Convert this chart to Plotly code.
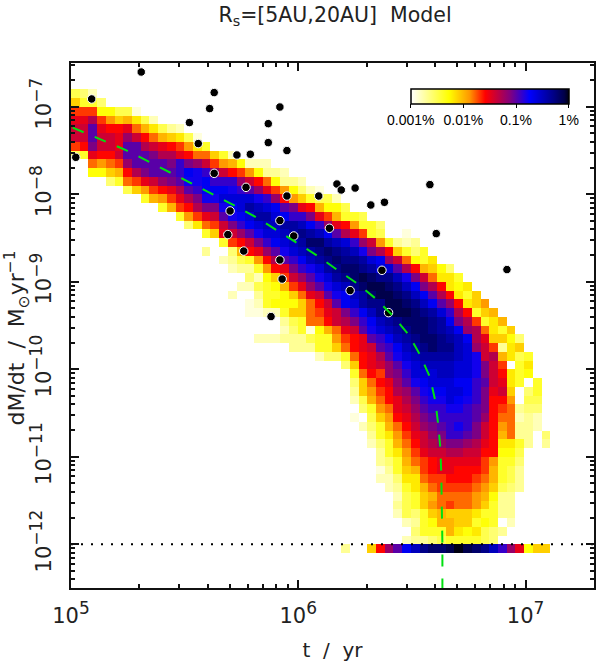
"""Accretion rate against age, binned population with observed stars on top."""
import numpy as np
import plotly.graph_objects as go

FONT = "DejaVu Sans"
BAR_FONT = "Liberation Sans"

# Heat levels: tenths of a decade above 0.001%, 0 = empty.
# One entry per row from the top of the plot, row_first gives its first column.
row_first = [0, 0, 0, 0, 0, 0, 0, 0, 0, 0, 0, 2, 2, 4, 6, 8, 10, 12, 13, 15,
             17, 15, 17, 18, 20, 19, 18, 20, 20, 24, 24, 21, 25, 28, 31, 32, 32, 32, 32, 33,
             32, 33, 34, 34, 35, 35, 35, 35, 36, 37, 37, 37, 38, 39, 38, 31, 0, 0, 0, 0]
row_levels = [
    [], [], [],
    [5, 4, 2],
    [9, 6, 6, 4],
    [13, 13, 13, 7, 7, 5, 5, 1],
    [15, 15, 17, 13, 11, 9, 10, 8, 5, 2],
    [16, 16, 20, 15, 14, 14, 15, 12, 10, 8, 5, 3, 2],
    [16, 16, 20, 16, 16, 15, 18, 16, 14, 12, 10, 9, 8, 5, 1],
    [13, 14, 19, 16, 16, 15, 20, 20, 17, 16, 15, 14, 13, 11, 8, 6],
    [5, 6, 15, 14, 14, 16, 20, 20, 20, 19, 17, 17, 15, 14, 12, 12, 9, 6, 2],
    [12, 11, 12, 13, 18, 20, 20, 20, 20, 19, 21, 19, 18, 16, 13, 11, 10, 7, 2, 2, 2],
    [7, 7, 9, 10, 14, 17, 19, 20, 20, 20, 21, 23, 22, 21, 18, 16, 14, 13, 11, 7, 3, 3, 2],
    [4, 6, 12, 13, 15, 16, 18, 19, 20, 22, 22, 23, 21, 21, 21, 18, 16, 14, 12, 7, 3, 3, 2],
    [5, 9, 11, 13, 14, 15, 17, 20, 21, 23, 23, 23, 22, 21, 20, 18, 15, 13, 11, 7, 4, 2, 1],
    [6, 10, 11, 13, 15, 17, 19, 22, 22, 24, 24, 24, 24, 22, 21, 18, 14, 11, 9, 6, 5, 5, 2],
    [6, 10, 13, 14, 17, 19, 19, 22, 23, 24, 26, 25, 24, 23, 20, 19, 15, 14, 10, 7, 7, 5],
    [6, 11, 13, 15, 16, 20, 22, 23, 24, 26, 26, 24, 23, 21, 21, 19, 15, 13, 10, 6, 6, 5],
    [4, 8, 12, 13, 16, 19, 21, 23, 24, 25, 25, 26, 26, 25, 23, 21, 18, 15, 14, 11, 6, 6, 4],
    [6, 9, 15, 16, 18, 20, 22, 24, 24, 25, 26, 27, 26, 25, 23, 20, 17, 15, 13, 6, 5, 0, 0, 1],
    [6, 13, 14, 16, 19, 21, 23, 24, 25, 26, 28, 28, 26, 25, 24, 21, 18, 16, 11, 6, 3, 2, 3],
    [3, 0, 0, 4, 10, 14, 15, 18, 20, 22, 24, 25, 26, 27, 28, 27, 26, 25, 22, 19, 17, 14, 9, 6, 4, 6],
    [2, 3, 5, 6, 11, 14, 17, 20, 21, 23, 25, 26, 27, 28, 27, 27, 26, 24, 23, 18, 16, 12, 7, 6, 8],
    [2, 3, 3, 6, 11, 14, 15, 19, 21, 22, 24, 26, 27, 28, 28, 27, 26, 24, 24, 20, 17, 14, 10, 9, 7, 4],
    [4, 2, 7, 9, 13, 16, 18, 20, 22, 24, 26, 27, 28, 29, 28, 27, 27, 25, 22, 19, 16, 12, 8, 8, 6],
    [2, 2, 5, 6, 7, 10, 13, 15, 18, 20, 22, 24, 25, 27, 28, 29, 29, 28, 27, 25, 23, 19, 17, 14, 8, 7, 8],
    [2, 0, 0, 3, 6, 6, 7, 9, 12, 15, 16, 20, 22, 23, 25, 26, 28, 29, 29, 28, 27, 25, 23, 20, 17, 14, 8, 6, 9],
    [1, 2, 6, 7, 7, 7, 9, 12, 14, 16, 20, 23, 24, 26, 27, 27, 29, 29, 28, 27, 25, 23, 20, 18, 14, 8, 9, 11],
    [1, 1, 2, 2, 6, 9, 9, 12, 13, 15, 16, 19, 21, 23, 25, 27, 28, 29, 29, 28, 27, 26, 24, 21, 17, 14, 6, 9, 10],
    [3, 5, 6, 12, 12, 14, 16, 17, 19, 21, 23, 25, 26, 27, 28, 28, 28, 27, 26, 23, 19, 17, 13, 6, 8, 10],
    [2, 4, 6, 1, 7, 10, 12, 15, 16, 20, 22, 24, 25, 26, 27, 28, 28, 27, 26, 25, 23, 18, 17, 12, 8, 6, 9],
    [2, 2, 2, 3, 3, 3, 5, 6, 6, 11, 13, 14, 15, 20, 21, 23, 25, 26, 27, 28, 28, 27, 26, 25, 23, 17, 15, 9, 9, 7, 4],
    [3, 3, 3, 6, 6, 9, 12, 14, 15, 16, 20, 21, 23, 25, 26, 27, 28, 27, 27, 25, 24, 18, 16, 13, 3, 8, 9],
    [2, 4, 4, 6, 12, 14, 15, 17, 20, 22, 24, 25, 26, 26, 26, 26, 25, 24, 22, 16, 17, 10, 8, 5, 6],
    [4, 9, 14, 15, 16, 18, 20, 22, 24, 25, 25, 25, 25, 24, 24, 22, 19, 16, 13, 0, 6, 8],
    [6, 12, 14, 13, 18, 19, 21, 24, 24, 24, 25, 25, 24, 24, 22, 19, 16, 14, 8, 6, 7],
    [4, 9, 12, 14, 15, 18, 20, 22, 23, 24, 24, 24, 23, 23, 21, 20, 16, 15, 8, 6, 0, 6],
    [3, 9, 11, 13, 14, 17, 18, 20, 22, 23, 23, 24, 24, 23, 21, 19, 15, 16, 9, 0, 4, 6],
    [2, 5, 10, 12, 14, 15, 17, 19, 21, 22, 22, 24, 23, 22, 21, 19, 14, 14, 11, 0, 5, 5],
    [4, 6, 11, 12, 15, 16, 18, 20, 21, 21, 22, 22, 21, 20, 19, 14, 13, 12, 3, 4, 4],
    [1, 0, 5, 9, 11, 14, 15, 17, 19, 20, 21, 21, 21, 21, 20, 18, 14, 12, 12, 2, 3, 2],
    [2, 4, 6, 10, 12, 14, 16, 18, 19, 20, 21, 22, 21, 19, 16, 14, 11, 12, 3, 3, 2],
    [3, 6, 8, 11, 13, 15, 16, 18, 19, 21, 21, 20, 19, 16, 14, 10, 12, 3, 3, 0, 4],
    [2, 4, 6, 10, 12, 14, 16, 17, 18, 19, 19, 18, 17, 15, 14, 8, 8, 6, 3, 0, 3],
    [3, 6, 8, 11, 13, 15, 16, 16, 17, 17, 16, 16, 14, 14, 7, 7, 5],
    [3, 4, 6, 10, 12, 13, 14, 15, 15, 15, 15, 15, 13, 11, 6, 6, 4],
    [1, 3, 6, 9, 10, 13, 14, 15, 15, 14, 14, 14, 13, 10, 6, 5, 3],
    [2, 2, 4, 8, 8, 12, 13, 13, 14, 14, 14, 13, 12, 10, 6, 5, 3],
    [2, 3, 6, 8, 10, 12, 13, 13, 13, 13, 12, 11, 9, 5, 4, 3],
    [2, 5, 6, 9, 10, 12, 12, 12, 12, 11, 10, 7, 3, 3],
    [3, 5, 6, 9, 11, 12, 13, 12, 12, 11, 9, 6, 3, 3],
    [2, 5, 4, 6, 9, 10, 9, 9, 9, 8, 6, 6, 3, 3],
    [2, 3, 6, 7, 10, 10, 9, 9, 6, 7, 6, 0, 2],
    [4, 6, 6, 6, 10, 8, 7, 8, 5, 4, 3],
    [2, 3, 3, 4, 5, 6, 6, 6, 6, 5, 4],
    [3, 0, 0, 9, 14, 18, 20, 23, 25, 27, 28, 28, 29, 30, 29, 28, 27, 25, 21, 18, 15, 7, 9, 9],
    [], [], [], [],
]

# Stars with measured rates (log10 yr, log10 Msun/yr)
star_log_t = [5.309, 5.091, 5.630, 5.610, 5.919, 5.521, 5.868, 5.868, 5.560, 5.950,
              5.021, 5.730, 5.789, 5.630, 5.770, 5.950, 6.090, 5.700, 5.919, 6.137,
              5.980, 5.690, 5.760, 5.919, 5.929, 5.880, 6.170, 6.189, 6.250, 6.579,
              6.319, 6.379, 6.607, 6.918, 6.368, 6.228, 6.397]
star_log_mdot = [-6.603, -6.911, -6.838, -7.021, -7.003, -7.181, -7.193, -7.410, -7.421, -7.501,
                 -7.578, -7.551, -7.543, -7.761, -7.921, -8.020, -8.020, -8.191, -8.301, -8.389,
                 -8.477, -8.461, -8.649, -8.751, -8.969, -9.398, -7.883, -7.951, -7.929, -7.890,
                 -8.123, -8.092, -8.450, -8.861, -8.869, -9.101, -9.353]

# Green median track
track_log_t = [5.007, 5.096, 5.244, 5.389, 5.528, 5.621, 5.718, 5.813, 5.900, 5.993,
               6.081, 6.168, 6.256, 6.339, 6.414, 6.484, 6.535, 6.579, 6.603, 6.616,
               6.625, 6.629, 6.632, 6.634, 6.634, 6.634]
track_log_mdot = [-7.238, -7.334, -7.498, -7.689, -7.871, -8.0, -8.126, -8.26, -8.404, -8.557,
                  -8.698, -8.858, -9.014, -9.189, -9.383, -9.6, -9.833, -10.089, -10.363, -10.64,
                  -10.903, -11.189, -11.498, -11.803, -11.993, -12.5]

floor_mdot = 1e-12
x_limits = [1e5, 2e7]
pct_ticks = ["0.001%", "0.01%", "0.1%", "1%"]
x_exponents = ["5", "6", "7"]
y_exponents = ["\u221212", "\u221211", "\u221210", "\u22129", "\u22128", "\u22127"]


def power_label(exponent):
    # plotly shrinks <sup> a lot, the original keeps the exponent nearly full size
    return f'10<sup><span style="font-size:17px">{exponent}</span></sup>'


# Build the matrix, bottom row first so the bin edges can run upwards
z = []
for first, levels in zip(row_first, row_levels):
    row = [None] * 60
    for i, level in enumerate(levels):
        if level > 0:
            row[first + i] = -3 + level / 10
    z.append(row)
z = z[::-1]

heat_colors = [
    [0.0, "#ffffff"], [0.24, "#ffff00"], [0.37, "#ff9800"], [0.47, "#ff0000"],
    [0.63, "#800080"], [0.75, "#0000ff"], [0.90, "#000088"], [0.97, "#000048"], [1.0, "#000010"],
]

fig = go.Figure()
fig.add_trace(go.Heatmap(
    x=np.logspace(5, 7.3, 61), y=np.logspace(-12.5, -6.5, 61), z=z,
    zmin=-3, zmax=0, colorscale=heat_colors, hoverongaps=False,
    colorbar=dict(
        orientation="h", lenmode="pixels", len=158, thicknessmode="pixels", thickness=15,
        x=(412 - 71) / 525, xanchor="left", y=(587.7 - 89) / 525, yanchor="top",
        xpad=0, ypad=0, outlinecolor="black", outlinewidth=1.5,
        tickvals=[-3, -2, -1, 0], ticktext=pct_ticks, ticks="outside", ticklen=4,
        tickcolor="black", tickfont=dict(family=BAR_FONT, size=14, color="black"),
    ),
))
fig.add_trace(go.Scatter(
    x=10 ** np.array(star_log_t), y=10 ** np.array(star_log_mdot), mode="markers",
    marker=dict(color="black", size=8.5, line=dict(color="white", width=1)),
))
fig.add_trace(go.Scatter(
    x=10 ** np.array(track_log_t), y=10 ** np.array(track_log_mdot), mode="lines",
    line=dict(color="#00e010", width=2, dash="12px,12px"),
))
fig.add_trace(go.Scatter(
    x=x_limits, y=[floor_mdot, floor_mdot], mode="lines",
    line=dict(color="black", width=2, dash="2px,8px"),
))

minor_x = [m * 10.0 ** e for e in (5, 6, 7) for m in range(2, 10)]
minor_y = [m * 10.0 ** e for e in range(-13, -6) for m in range(2, 10)]
axis_style = dict(
    type="log", showgrid=False, zeroline=False, showline=True, linecolor="#111111", linewidth=2,
    mirror="ticks", ticks="inside", ticklen=8, tickwidth=1.5, tickcolor="#111111",
    tickfont=dict(family=FONT, size=21, color="#222222"),
)

fig.update_layout(
    width=598, height=665, margin=dict(l=71, r=2, t=63, b=77),
    paper_bgcolor="white", plot_bgcolor="white", showlegend=False,
    title=dict(text="R<sub>s</sub>=[5AU,20AU]  Model", x=335 / 598, xanchor="center",
               y=1 - 15 / 665, yanchor="middle",
               font=dict(family=FONT, size=20.5, color="#222222")),
    xaxis=dict(axis_style, range=[5, 7.301], tickvals=[1e5, 1e6, 1e7],
               ticktext=[power_label(e) for e in x_exponents],
               ticklabelstandoff=8,
               minor=dict(ticks="inside", ticklen=4, tickvals=minor_x, tickcolor="#111111", tickwidth=1.5),
               title=dict(text="t  /  yr", standoff=16,
                          font=dict(family=FONT, size=20, color="#222222"))),
    yaxis=dict(axis_style, range=[-12.5, -6.5],
               tickvals=[1e-12, 1e-11, 1e-10, 1e-9, 1e-8, 1e-7],
               ticktext=[power_label(e) for e in y_exponents],
               tickangle=-90, ticklabelstandoff=10,
               minor=dict(ticks="inside", ticklen=4, tickvals=minor_y, tickcolor="#111111", tickwidth=1.5)),
    annotations=[dict(
        text="dM/dt  /  M<sub>\u2299</sub>yr<sup>\u22121</sup>", textangle=-90, showarrow=False,
        xref="paper", yref="paper", x=(17 - 71) / 525, y=(587.7 - 338) / 525,
        xanchor="center", yanchor="middle",
        font=dict(family=FONT, size=22, color="#222222"),
    )],
)

# the page default margin would shift the whole figure by 8px
fig.write_html("out.html", config={"displayModeBar": False},
               post_script="document.body.style.margin='0';")
